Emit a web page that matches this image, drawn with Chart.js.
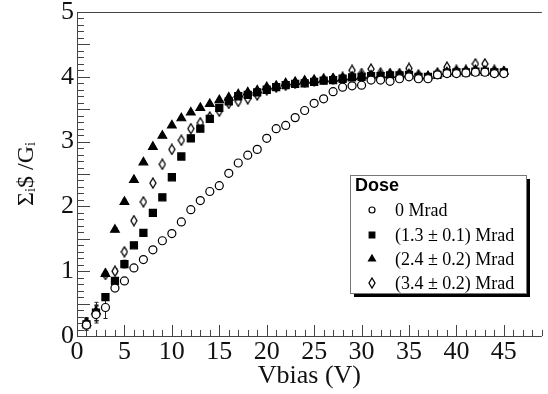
<!DOCTYPE html>
<html>
<head>
<meta charset="utf-8">
<script src="https://cdn.jsdelivr.net/npm/chart.js@4.4.0/dist/chart.umd.min.js"></script>
<style>
    html, body { margin: 0; padding: 0; background: #fff; }
    #wrap { width: 548px; height: 394px; }
</style>
</head>
<body>
<div id="wrap"><canvas id="doseChart" width="548" height="394"></canvas></div>
<script>
// bias voltage (V)
const vbias = [1, 2, 3, 4, 5, 6, 7, 8, 9, 10, 11, 12, 13, 14, 15, 16, 17, 18, 19, 20, 21, 22, 23,
    24, 25, 26, 27, 28, 29, 30, 31, 32, 33, 34, 35, 36, 37, 38, 39, 40, 41, 42, 43, 44, 45];

const dose0 = [0.17, 0.33, 0.44, 0.74, 0.85, 1.05, 1.18, 1.33, 1.47, 1.58, 1.76, 1.95, 2.09, 2.23, 2.32,
    2.51, 2.67, 2.79, 2.88, 3.05, 3.20, 3.25, 3.37, 3.48, 3.59, 3.66, 3.77, 3.84, 3.86, 3.87,
    3.95, 3.95, 3.93, 3.97, 4.00, 3.97, 3.97, 4.03, 4.05, 4.05, 4.06, 4.07, 4.07, 4.05, 4.05];
const dose13 = [0.18, 0.36, 0.60, 0.85, 1.11, 1.40, 1.59, 1.90, 2.14, 2.45, 2.77, 3.05, 3.20, 3.35, 3.52,
    3.62, 3.70, 3.72, 3.76, 3.80, 3.84, 3.87, 3.89, 3.90, 3.92, 3.94, 3.95, 3.97, 3.99, 4.00,
    4.01, 4.01, 4.02, 4.02, 4.03, 4.00, 4.00, 4.03, 4.06, 4.07, 4.07, 4.08, 4.08, 4.07, 4.07];
const dose24 = [0.20, 0.38, 0.96, 1.64, 2.07, 2.41, 2.68, 2.92, 3.09, 3.25, 3.36, 3.45, 3.52, 3.58, 3.64,
    3.68, 3.73, 3.76, 3.79, 3.84, 3.86, 3.90, 3.92, 3.94, 3.95, 3.96, 3.97, 3.98, 4.00, 4.01,
    4.02, 4.02, 4.03, 4.03, 4.04, 4.01, 4.01, 4.04, 4.07, 4.08, 4.08, 4.10, 4.09, 4.08, 4.08];
const dose34 = [0.20, 0.35, 0.95, 1.00, 1.30, 1.78, 2.07, 2.36, 2.65, 2.88, 3.02, 3.20, 3.29, 3.38, 3.47,
    3.59, 3.62, 3.66, 3.72, 3.80, 3.84, 3.87, 3.90, 3.92, 3.94, 3.96, 3.97, 3.99, 4.10, 4.05,
    4.12, 4.06, 4.05, 4.05, 4.13, 4.03, 4.00, 4.06, 4.15, 4.10, 4.10, 4.20, 4.20, 4.10, 4.08];

// errors on the first points (rest are within the markers)
const err0 = [0.08, 0.13, 0.17, 0.05, 0.04];
const err13 = [0.09, 0.12, 0.04, 0.04, 0.06];
const err24 = [0.08, 0.14, 0.04, 0.03, 0.04];
const err34 = [0.08, 0.12, 0.04, 0.04, 0.04];

const doseLabels = ['0 Mrad', '(1.3 \u00b1 0.1) Mrad', '(2.4 \u00b1 0.2) Mrad', '(3.4 \u00b1 0.2) Mrad'];

const xTicks = [0, 5, 10, 15, 20, 25, 30, 35, 40, 45];
const yTicks = [0, 1, 2, 3, 4, 5];

const serif = '"Liberation Serif", "DejaVu Serif", serif';
const sans = '"Liberation Sans", Arial, sans-serif';

function diamondMarker(w, h) {
    const c = document.createElement('canvas');
    c.width = w + 2;
    c.height = h + 2;
    const g = c.getContext('2d');
    g.beginPath();
    g.moveTo(c.width / 2, 1);
    g.lineTo(c.width - 1, c.height / 2);
    g.lineTo(c.width / 2, c.height - 1);
    g.lineTo(1, c.height / 2);
    g.closePath();
    g.fillStyle = '#fff';
    g.fill();
    g.lineWidth = 1.3;
    g.strokeStyle = '#000';
    g.stroke();
    return c;
}

function toPoints(values) {
    return vbias.map((v, i) => ({ x: v, y: values[i] }));
}

const series = [
    { values: dose0, errs: err0, style: 'circle', radius: 4, fill: '#fff' },
    { values: dose13, errs: err13, style: 'rect', radius: 5, fill: '#000' },
    { values: dose24, errs: err24, style: 'triangle', radius: 5, fill: '#000' },
    { values: dose34, errs: err34, style: diamondMarker(6, 10), radius: 5, fill: '#fff' }
];

// frame + inward ROOT-style ticks
const frameTicks = {
    id: 'frameTicks',
    beforeDatasetsDraw(chart) {
        const { ctx, chartArea: a, scales: { x, y } } = chart;
        ctx.save();
        ctx.strokeStyle = '#444';
        ctx.lineWidth = 1;
        ctx.beginPath();
        ctx.moveTo(a.right, a.top + 0.5);
        ctx.lineTo(a.left + 0.5, a.top + 0.5);
        ctx.lineTo(a.left + 0.5, a.bottom + 0.5);
        ctx.lineTo(a.right, a.bottom + 0.5);
        ctx.stroke();

        ctx.beginPath();
        for (let v = 0; v <= 49; v++) {
            const px = Math.round(x.getPixelForValue(v)) + 0.5;
            const len = v % 5 === 0 ? 11 : 6;
            ctx.moveTo(px, a.bottom);
            ctx.lineTo(px, a.bottom - len);
        }
        for (let k = 0; k <= 50; k++) {
            const py = Math.round(y.getPixelForValue(k / 10)) + 0.5;
            const len = k % 5 === 0 ? 13 : 7;
            ctx.moveTo(a.left, py);
            ctx.lineTo(a.left + len, py);
        }
        ctx.stroke();
        ctx.restore();
    }
};

const errorBars = {
    id: 'errorBars',
    beforeDatasetsDraw(chart) {
        const { ctx, scales: { x, y } } = chart;
        ctx.save();
        ctx.strokeStyle = '#222';
        ctx.lineWidth = 1;
        series.forEach(s => {
            s.errs.forEach((e, i) => {
                if (!e) return;
                const px = Math.round(x.getPixelForValue(vbias[i])) + 0.5;
                const top = y.getPixelForValue(s.values[i] + e);
                const bot = y.getPixelForValue(s.values[i] - e);
                ctx.beginPath();
                ctx.moveTo(px, top);
                ctx.lineTo(px, bot);
                ctx.moveTo(px - 2, top);
                ctx.lineTo(px + 2, top);
                ctx.moveTo(px - 2, bot);
                ctx.lineTo(px + 2, bot);
                ctx.stroke();
            });
        });
        ctx.restore();
    }
};

const doseLegend = {
    id: 'doseLegend',
    afterDraw(chart) {
        const ctx = chart.ctx;
        const bx = 350, by = 175, bw = 176, bh = 118;
        ctx.save();
        ctx.fillStyle = '#000';
        ctx.fillRect(bx + 4, by + 4, bw, bh);
        ctx.fillStyle = '#fff';
        ctx.fillRect(bx, by, bw, bh);
        ctx.strokeStyle = '#777';
        ctx.lineWidth = 1;
        ctx.strokeRect(bx + 0.5, by + 0.5, bw, bh);

        ctx.fillStyle = '#000';
        ctx.textBaseline = 'middle';
        ctx.font = 'bold 18px ' + sans;
        ctx.fillText('Dose', bx + 5, by + 11);

        const rows = [210, 235, 259, 283];
        ctx.font = '18px ' + serif;
        doseLabels.forEach((label, i) => {
            const s = series[i];
            ctx.fillStyle = s.fill;
            ctx.strokeStyle = '#000';
            ctx.lineWidth = 1.2;
            Chart.helpers.drawPoint(ctx, {
                pointStyle: s.style,
                radius: s.radius - 1,
                rotation: 0,
                borderWidth: 1.2
            }, bx + 22, rows[i]);
            ctx.fillStyle = '#000';
            ctx.fillText(label, bx + 45, rows[i] + 1);
        });
        ctx.restore();
    }
};

const config = {
    type: 'scatter',
    data: {
        datasets: series.map((s, i) => ({
            label: doseLabels[i],
            data: toPoints(s.values),
            pointStyle: s.style,
            pointRadius: s.radius,
            pointHoverRadius: s.radius,
            pointBackgroundColor: s.fill,
            pointBorderColor: '#000',
            pointBorderWidth: 1.2,
            showLine: false
        }))
    },
    options: {
        responsive: false,
        animation: false,
        devicePixelRatio: 1,
        layout: { padding: { top: 12, right: 0, left: 0, bottom: 0 } },
        plugins: {
            legend: { display: false },
            tooltip: { enabled: false }
        },
        scales: {
            x: {
                type: 'linear',
                min: 0,
                max: 49,
                grid: { display: false, drawTicks: false },
                border: { display: false },
                afterBuildTicks: s => { s.ticks = xTicks.map(v => ({ value: v })); },
                ticks: {
                    padding: 1,
                    maxRotation: 0,
                    color: '#111',
                    font: { family: serif, size: 26 }
                },
                title: {
                    display: true,
                    text: 'Vbias (V)',
                    color: '#111',
                    padding: { top: 0, bottom: 2 },
                    font: { family: serif, size: 26 }
                },
                afterFit: s => {
                    s.height = 58;
                    s.paddingLeft = 0;
                    s.paddingRight = 0;
                }
            },
            y: {
                type: 'linear',
                min: 0,
                max: 5,
                grid: { display: false, drawTicks: false },
                border: { display: false },
                afterBuildTicks: s => { s.ticks = yTicks.map(v => ({ value: v })); },
                ticks: {
                    padding: 3,
                    color: '#111',
                    font: { family: serif, size: 26 }
                },
                title: {
                    display: true,
                    text: '\u03a3\u1d62$ /G\u1d62',
                    color: '#111',
                    padding: { top: 12, bottom: 0 },
                    font: { family: serif, size: 24 }
                },
                afterFit: s => {
                    s.width = 77;
                    s.paddingTop = 0;
                    s.paddingBottom = 0;
                }
            }
        }
    },
    plugins: [frameTicks, errorBars, doseLegend]
};

const doseChart = new Chart(document.getElementById('doseChart'), config);
</script>
</body>
</html>
